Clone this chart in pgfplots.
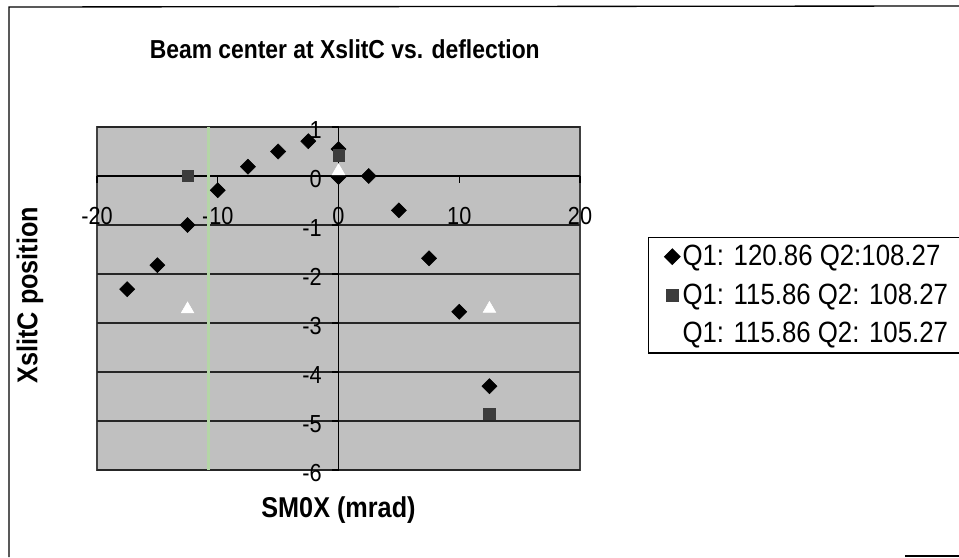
\documentclass[border=0pt]{standalone}
\usepackage{pgfplots}
\pgfplotsset{compat=1.18}
\usepackage{fontspec}
\setmainfont{Liberation Sans}[FakeStretch=0.88]
\definecolor{plotbg}{HTML}{C0C0C0}
\definecolor{sqgray}{HTML}{3C3C3C}
\definecolor{gline}{HTML}{B4D6A6}

\begin{document}
\begin{tikzpicture}[x=0.75pt,y=0.75pt]
\useasboundingbox (0,0) rectangle (959,557);
\fill[white] (0,0) rectangle (959,557);
% outer chart frame
\draw[line width=1pt] (9,0) -- (9,550) -- (959,551);
\draw[line width=1pt] (905,1) -- (959,1);
\begin{axis}[
    at={(72.75pt,65.25pt)}, anchor=south west,
    scale only axis, width=362.25pt, height=257.25pt,
    xmin=-20, xmax=20, ymin=-6, ymax=1,
    axis lines=middle,
    axis line style={-, black, line width=0.8pt},
    axis background/.style={fill=plotbg, draw=black!75, line width=1pt},
    xtick={-20,-10,...,20}, ytick={-6,-5,...,1},
    hide obscured x ticks=false, hide obscured y ticks=false,
    tick align=outside, major tick length=5pt,
    tick style={black, line width=0.8pt},
    ymajorgrids, grid style={black!85, line width=1.1pt},
    /pgf/number format/assume math mode=true,
    tick label style={font=\fontsize{18.5}{20}\selectfont},
    xticklabel style={anchor=north, yshift=-15pt},
    yticklabel style={anchor=east, xshift=-4pt, yshift=-2pt},
    title={Beam center at XslitC vs. deflection},
    title style={at={(axis description cs:0.513,1.203)}, anchor=center,
        font=\bfseries\fontsize{19.5}{22}\selectfont},
    xlabel={SM0X (mrad)},
    xlabel style={at={(axis description cs:0.5,-0.118)}, anchor=center,
        font=\bfseries\fontsize{21.5}{24}\selectfont},
    ylabel={XslitC position},
    ylabel style={at={(axis description cs:-0.139,0.51)}, anchor=center, rotate=90,
        font=\bfseries\fontsize{21.5}{24}\selectfont},
    legend style={at={(axis description cs:1.141,0.68)}, anchor=north west,
        draw=black, line width=1pt, fill=white,
        font=\fontsize{22}{24}\selectfont,
        nodes={inner sep=2pt},
        row sep=8pt, inner xsep=12pt, inner ysep=4pt},
    legend cell align=left,
]
% scan artefact: faint green vertical line
\draw[gline, line width=2.2pt] (axis cs:-10.8,-6) -- (axis cs:-10.8,1);

\addplot[only marks, mark=square*, mark size=4pt,
    mark options={rotate=45, fill=black, draw=black}]
    coordinates {
    (-17.5,-2.31) (-15,-1.82) (-12.5,-1.0) (-10,-0.29) (-7.5,0.19)
    (-5,0.50) (-2.5,0.71) (0,0.55) (0,-0.02) (2.5,0.0) (5,-0.70)
    (7.5,-1.68) (10,-2.77) (12.5,-4.29)
    };
\addlegendentry{Q1: 120.86 Q2:108.27}

\addplot[only marks, mark=square*, mark size=4.3pt,
    mark options={fill=sqgray, draw=sqgray}]
    coordinates {
    (-12.5,0.0) (0,0.42) (12.5,-4.85)
    };
\addlegendentry{Q1: 115.86 Q2: 108.27}

\addplot[only marks, mark=triangle*, mark size=5.5pt,
    mark options={fill=white, draw=white}]
    coordinates {
    (-12.5,-2.72) (0,0.1) (12.5,-2.71)
    };
\addlegendentry{Q1: 115.86 Q2: 105.27}
\end{axis}
\end{tikzpicture}
\end{document}
